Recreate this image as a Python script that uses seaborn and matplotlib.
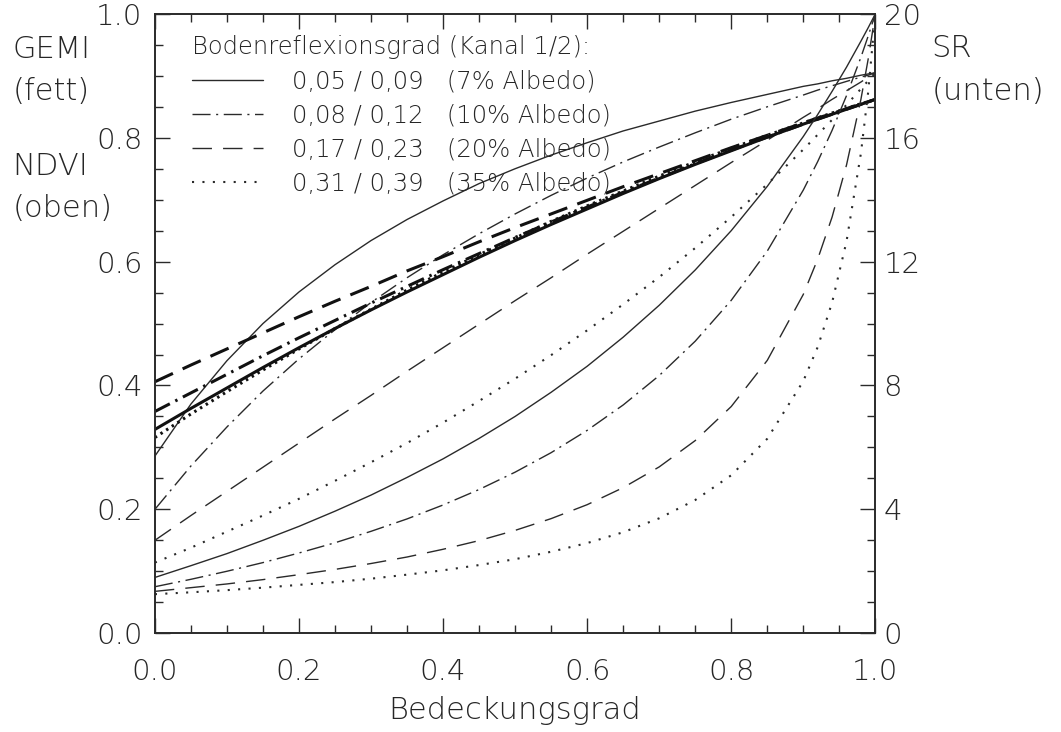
import matplotlib
matplotlib.use("Agg")
import matplotlib.pyplot as plt
from matplotlib.lines import Line2D
from matplotlib.ticker import MultipleLocator
import pandas as pd
import seaborn as sns

# Bedeckungsgrad (Vegetationsanteil)
bedeckung = [0, .05, .1, .15, .2, .25, .3, .35, .4, .45, .5, .55, .6, .65, .7,
             .75, .8, .85, .9, .92, .94, .96, .98, .99, 1.0]

boden = ["7%", "10%", "20%", "35%"]
legend_labels = ["0,05 / 0,09   (7% Albedo)", "0,08 / 0,12   (10% Albedo)",
                 "0,17 / 0,23   (20% Albedo)", "0,31 / 0,39   (35% Albedo)"]

# NDVI (obere, duenne Kurven)
ndvi_7 = [.286, .370, .440, .500, .551, .595, .634, .668, .698, .726, .750, .772, .792,
          .811, .827, .843, .857, .870, .883, .887, .892, .896, .901, .903, .905]
ndvi_10 = [.200, .270, .333, .391, .443, .490, .534, .574, .611, .645, .677, .707, .735,
           .761, .785, .808, .830, .850, .869, .877, .884, .891, .898, .901, .905]
ndvi_20 = [.150, .190, .229, .268, .307, .346, .384, .423, .461, .499, .537, .574, .612,
           .649, .686, .723, .760, .796, .833, .847, .862, .876, .890, .898, .905]
ndvi_35 = [.114, .138, .164, .190, .217, .246, .276, .307, .340, .375, .411, .449, .489,
           .531, .575, .622, .672, .725, .781, .805, .829, .853, .879, .892, .905]

# GEMI (fette Kurven)
gemi_7 = [.329, .363, .396, .429, .461, .492, .522, .551, .579, .607, .634, .660, .685,
          .710, .734, .757, .779, .801, .822, .830, .838, .846, .854, .858, .862]
gemi_10 = [.358, .388, .418, .448, .477, .505, .533, .560, .587, .613, .639, .664, .688,
           .712, .735, .758, .780, .801, .822, .830, .838, .846, .854, .858, .862]
gemi_20 = [.406, .433, .459, .485, .511, .536, .560, .585, .608, .632, .655, .677, .699,
           .721, .742, .763, .784, .804, .824, .832, .839, .847, .855, .858, .862]
gemi_35 = [.316, .354, .390, .425, .459, .492, .523, .554, .583, .611, .638, .665, .690,
           .714, .738, .761, .783, .804, .824, .832, .840, .847, .855, .858, .862]

# SR (untere Kurven, rechte Achse)
sr_7 = [1.80, 2.18, 2.57, 3.00, 3.45, 3.94, 4.46, 5.03, 5.63, 6.29, 7.00, 7.78, 8.62,
        9.56, 10.59, 11.73, 13.00, 14.43, 16.04, 16.75, 17.50, 18.28, 19.12, 19.55, 20.0]
sr_10 = [1.50, 1.74, 2.00, 2.28, 2.59, 2.92, 3.29, 3.69, 4.14, 4.64, 5.20, 5.83, 6.55,
         7.37, 8.32, 9.43, 10.75, 12.34, 14.31, 15.23, 16.24, 17.36, 18.60, 19.28, 20.0]
sr_20 = [1.35, 1.47, 1.59, 1.73, 1.89, 2.06, 2.25, 2.46, 2.71, 2.99, 3.32, 3.70, 4.15,
         4.70, 5.37, 6.22, 7.32, 8.81, 10.94, 12.08, 13.44, 15.12, 17.24, 18.53, 20.0]
sr_35 = [1.26, 1.32, 1.39, 1.47, 1.56, 1.65, 1.76, 1.89, 2.03, 2.20, 2.39, 2.63, 2.91,
         3.26, 3.71, 4.30, 5.10, 6.28, 8.14, 9.24, 10.68, 12.65, 15.50, 17.46, 20.0]


def long_table(series):
    rows = []
    for name, values in zip(boden, series):
        for x, y in zip(bedeckung, values):
            rows.append({"bedeckung": x, "wert": y, "boden": name})
    return pd.DataFrame(rows)


df_ndvi = long_table([ndvi_7, ndvi_10, ndvi_20, ndvi_35])
df_gemi = long_table([gemi_7, gemi_10, gemi_20, gemi_35])
df_sr = long_table([sr_7, sr_10, sr_20, sr_35])

sns.set_style("ticks")
plt.rcParams["font.family"] = ["DejaVu Sans"]
plt.rcParams["font.weight"] = 200
plt.rcParams["axes.labelweight"] = 200
plt.rcParams["legend.title_fontsize"] = 17.5

ink = "#2a2a2a"
txt = "#262626"
# Strichmuster in Einheiten der Linienbreite
dash_thin = {"7%": "", "10%": (13, 4, 1.5, 4), "20%": (14, 8), "35%": (1, 4)}
dash_bold = {"7%": "", "10%": (5.5, 2, 0.8, 2), "20%": (6.5, 3.5), "35%": (0.8, 1.4)}

fig = plt.figure(figsize=(10.61, 7.32), dpi=100)
ax = fig.add_axes([0.146, 0.135, 0.679, 0.846])
ax2 = ax.twinx()

sns.lineplot(data=df_ndvi, x="bedeckung", y="wert", style="boden", dashes=dash_thin,
             color=ink, linewidth=1.0, legend=False, ax=ax, estimator=None)
sns.lineplot(data=df_gemi, x="bedeckung", y="wert", style="boden", dashes=dash_bold,
             color="#111111", linewidth=2.2, legend=False, ax=ax, estimator=None)
sns.lineplot(data=df_sr, x="bedeckung", y="wert", style="boden", dashes=dash_thin,
             color=ink, linewidth=1.0, legend=False, ax=ax2, estimator=None)

# gepunktete duenne Kurven etwas kraeftiger, wie im Original
ax.lines[3].set_linewidth(1.5)
ax2.lines[3].set_linewidth(1.5)

ax.set_xlim(0, 1)
ax.set_ylim(0, 1)
ax2.set_ylim(0, 20)
ax.xaxis.set_major_locator(MultipleLocator(0.2))
ax.xaxis.set_minor_locator(MultipleLocator(0.05))
ax.yaxis.set_major_locator(MultipleLocator(0.2))
ax.yaxis.set_minor_locator(MultipleLocator(0.05))
ax2.yaxis.set_major_locator(MultipleLocator(4))
ax2.yaxis.set_minor_locator(MultipleLocator(1))

for a in (ax, ax2):
    for side in a.spines.values():
        side.set_linewidth(1.2)
        side.set_color(ink)
ax.tick_params(which="both", direction="in", top=True, right=False, color=ink,
               labelsize=21, labelcolor=txt, width=1.0)
ax.tick_params(which="major", length=11)
ax.tick_params(which="minor", length=6)
ax.tick_params(axis="x", pad=18)
ax.tick_params(axis="y", pad=9)
ax2.tick_params(which="both", direction="in", color=ink, labelsize=21,
                labelcolor=txt, width=1.0, pad=6)
ax2.tick_params(which="major", length=11)
ax2.tick_params(which="minor", length=6)

ax.set_xlabel("Bedeckungsgrad", fontsize=22, color=txt, labelpad=7)
ax.set_ylabel("")
ax2.set_ylabel("")

# Achsentitel links und rechts, je Zeile auf ihre Grundlinie gesetzt
for xpos, ypos, label in [(0.012, 0.921, "GEMI"), (0.012, 0.863, "(fett)"),
                          (0.012, 0.761, "NDVI"), (0.012, 0.704, "(oben)"),
                          (0.878, 0.922, "SR"), (0.878, 0.863, "(unten)")]:
    fig.text(xpos, ypos, label, fontsize=22, color=txt, va="baseline")

handles = [Line2D([], [], color=ink, linewidth=1.0, linestyle="-")]
for name in boden[1:]:
    lw = 1.5 if name == "35%" else 1.0
    handles.append(Line2D([], [], color=ink, linewidth=lw, dashes=dash_thin[name]))
ax2.legend(handles, legend_labels, title="Bodenreflexionsgrad (Kanal 1/2):",
           loc="upper left", bbox_to_anchor=(0.052, 0.966), frameon=False,
           fontsize=17.5, handlelength=2.9, handletextpad=1.2,
           labelspacing=0.42, alignment="left", borderpad=0, borderaxespad=0,
           labelcolor=txt)

fig.savefig("out.png", dpi=100)
